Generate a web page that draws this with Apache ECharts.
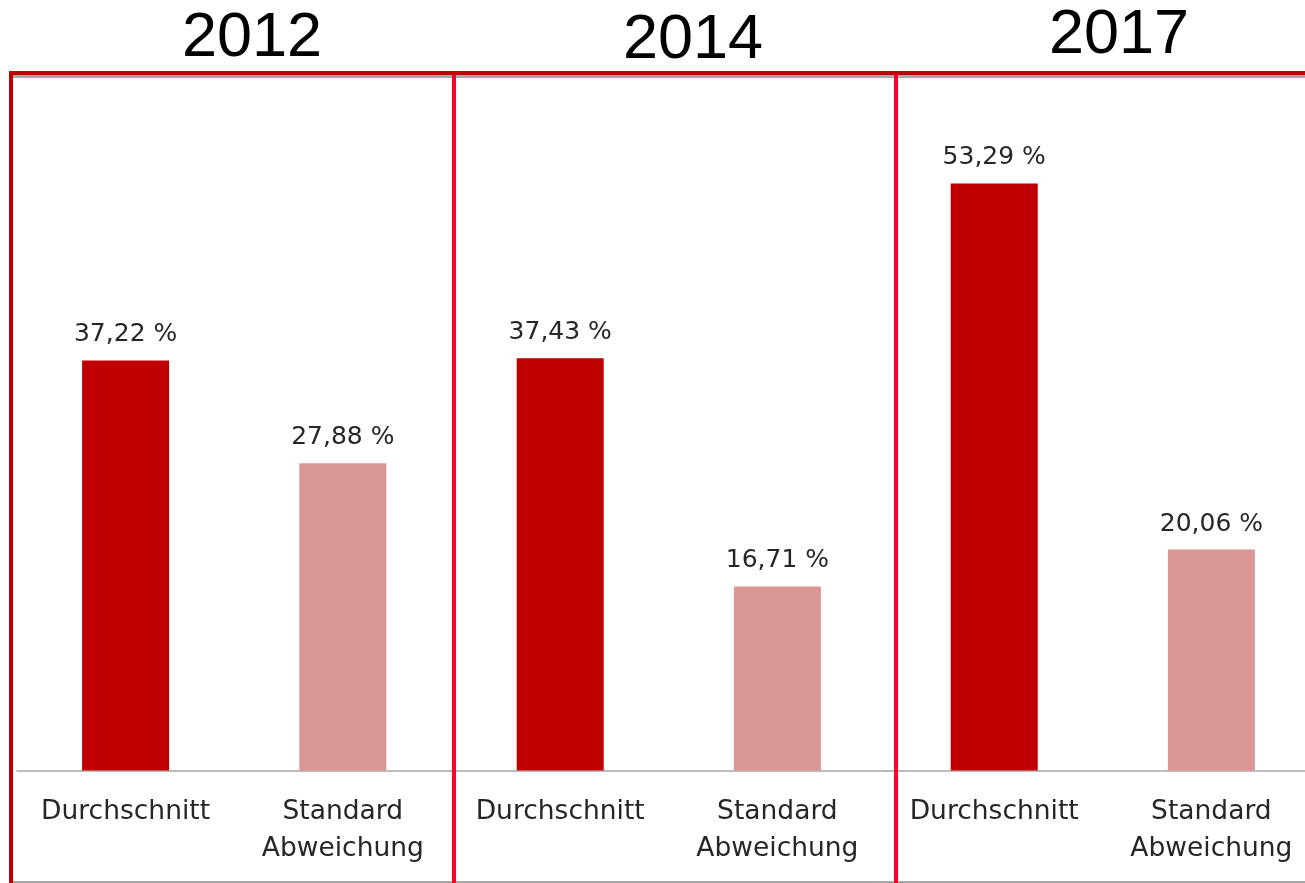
<!DOCTYPE html>
<html>
<head>
<meta charset="utf-8">
<script src="https://cdn.jsdelivr.net/npm/echarts@6/dist/echarts.min.js"></script>
<style>
html,body{margin:0;padding:0;background:#fff;}
#chart{width:1305px;height:883px;}
</style>
</head>
<body>
<div id="chart"></div>
<script>
const years = ['2012', '2014', '2017'];
const categories = ['Durchschnitt', 'Standard\nAbweichung'];
const durchschnitt = [37.22, 37.43, 53.29];
const standardAbweichung = [27.88, 16.71, 20.06];

const chart = echarts.init(document.getElementById('chart'), null, {renderer: 'canvas'});

const panelLefts = [17, 451.6, 885.6];
const panelWidth = 434.4;
const yMax = 60;
const titleX = [252, 693, 1119];
const titleY = [39, 41, 36];

const fmt = v => v.toFixed(2).replace('.', ',') + ' %';

const grids = [], xAxes = [], yAxes = [], series = [], graphics = [];
years.forEach((yr, i) => {
  grids.push({left: panelLefts[i], width: panelWidth, top: 109.5, height: 661, outerBoundsMode: 'none', containLabel: false});
  xAxes.push({
    type: 'category', gridIndex: i, data: categories,
    axisLine: {show: true, lineStyle: {color: '#A6A6A6', width: 1.5}},
    axisTick: {show: false},
    axisLabel: {interval: 0, fontFamily: 'DejaVu Sans', fontSize: 26.5, color: '#262626', lineHeight: 37, margin: 23}
  });
  yAxes.push({type: 'value', gridIndex: i, min: 0, max: yMax, show: false, splitLine: {show: false}});
  series.push({
    type: 'bar', xAxisIndex: i, yAxisIndex: i, barWidth: 87,
    data: [
      {value: durchschnitt[i], itemStyle: {color: '#C00000'}},
      {value: standardAbweichung[i], itemStyle: {color: '#D99694'}}
    ],
    label: {show: true, position: 'top', distance: 13, formatter: p => fmt(p.value),
      fontFamily: 'DejaVu Sans', fontSize: 25, color: '#262626'}
  });
  graphics.push({
    type: 'text', x: titleX[i], y: titleY[i], z: 100,
    style: {text: yr, font: '63px "Liberation Sans", Arial, sans-serif', fill: '#000', align: 'center', verticalAlign: 'middle'}
  });
});

// panel frame
graphics.push(
  {type: 'line', z: 90, shape: {x1: 9, y1: 76.5, x2: 1305, y2: 76.5}, style: {stroke: '#A8A8A8', lineWidth: 3}},
  {type: 'line', z: 100, shape: {x1: 9, y1: 73, x2: 1305, y2: 73}, style: {stroke: '#C00000', lineWidth: 4}},
  {type: 'line', z: 100, shape: {x1: 11, y1: 71, x2: 11, y2: 883}, style: {stroke: '#C00000', lineWidth: 4}},
  {type: 'line', z: 100, shape: {x1: 454, y1: 75, x2: 454, y2: 883}, style: {stroke: '#FF0028', lineWidth: 4}},
  {type: 'line', z: 100, shape: {x1: 896, y1: 75, x2: 896, y2: 883}, style: {stroke: '#FF0028', lineWidth: 4}},
  {type: 'line', z: 80, shape: {x1: 13, y1: 882, x2: 1305, y2: 882}, style: {stroke: '#A6A6A6', lineWidth: 2}}
);

chart.setOption({
  animation: false,
  backgroundColor: '#fff',
  grid: grids,
  xAxis: xAxes,
  yAxis: yAxes,
  series: series,
  graphic: graphics
});
</script>
</body>
</html>
